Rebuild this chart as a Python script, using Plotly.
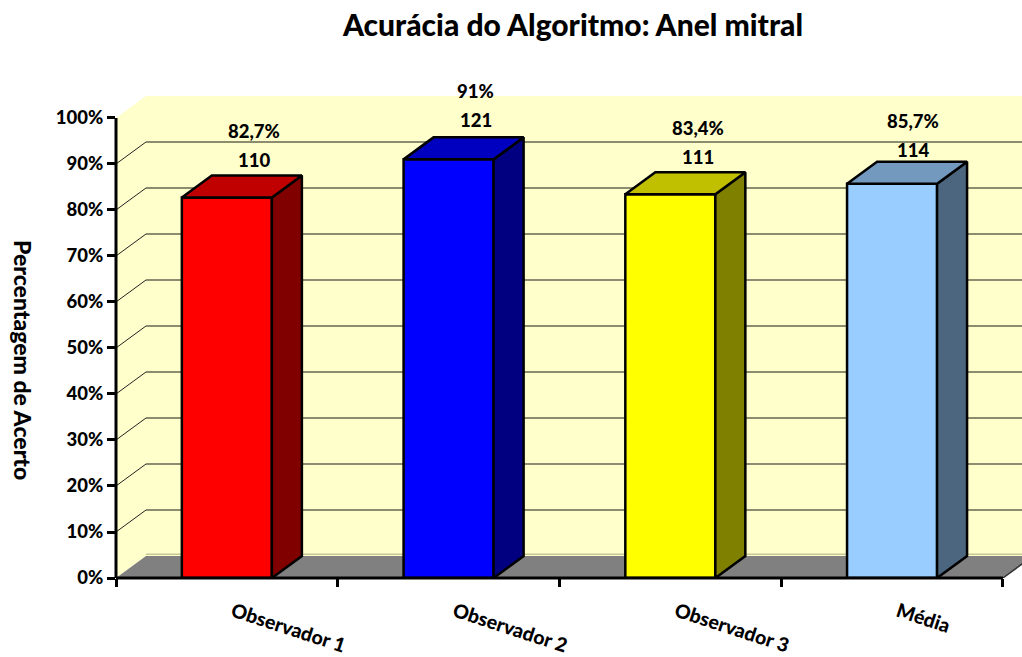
import plotly.graph_objects as go

categories = ['Observador 1', 'Observador 2', 'Observador 3', 'Média']
acerto = [82.7, 91, 83.4, 85.7]
casos = [110, 121, 111, 114]
pct_labels = ['82,7%', '91%', '83,4%', '85,7%']

y_ticks = [0, 10, 20, 30, 40, 50, 60, 70, 80, 90, 100]
y_ticktext = ['0%', '10%', '20%', '30%', '40%', '50%', '60%', '70%', '80%', '90%', '100%']
x_boundaries = [-0.5, 0.5, 1.5, 2.5, 3.5]

front_colors = ['#FF0000', '#0000FF', '#FFFF00', '#99CCFF']
side_colors = ['#800000', '#000080', '#808000', '#4D6680']
top_colors = ['#C00000', '#0000C0', '#C0C000', '#7399BF']

# label offsets in pixels, relative to the front top edge of each bar
label_dx = [27, 27, 28, 21]
label_dy = [38, 39, 37, 34]

FONT = 'Lato'
WEIGHT = 900
BAR_W = 0.406
DX = 30 / 221.75   # depth of the fake 3D box, in axis units
DY = 22 / 4.6
X0, X1 = -0.5, 3.586
X_END = x_boundaries[-1]
Y_TOP = 112.6
EDGE = 2.5

fig = go.Figure()

# Front faces
fig.add_trace(go.Bar(
    x=list(range(len(categories))), y=acerto, width=BAR_W,
    marker=dict(color=front_colors, line=dict(color='black', width=EDGE)),
    showlegend=False
))

# Side and top faces
for i, v in enumerate(acerto):
    l, r = i - BAR_W / 2, i + BAR_W / 2
    fig.add_trace(go.Scatter(
        x=[r, r + DX, r + DX, r, r], y=[0, DY, v + DY, v, 0],
        fill='toself', fillcolor=side_colors[i], mode='lines',
        line=dict(color='black', width=EDGE), showlegend=False
    ))
    fig.add_trace(go.Scatter(
        x=[l, l + DX, r + DX, r, l], y=[v, v + DY, v + DY, v, v],
        fill='toself', fillcolor=top_colors[i], mode='lines',
        line=dict(color='black', width=EDGE), showlegend=False
    ))

shapes = []
# Back wall, left wall, floor
shapes.append(dict(type='rect', x0=X0 + DX, x1=X_END + DX, y0=DY, y1=100 + DY,
                   fillcolor='#FFFFCC', line_width=0, layer='below'))
shapes.append(dict(type='path', layer='below', fillcolor='#FFFFCC', line_width=0,
                   path=f'M {X0},0 L {X0 + DX},{DY} L {X0 + DX},{100 + DY} L {X0},100 Z'))
shapes.append(dict(type='path', layer='below', fillcolor='#808080', line_width=0,
                   path=f'M {X0},0 L {X0 + DX},{DY} L {X_END + DX},{DY} L {X_END},0 Z'))
# Gridlines
for t in y_ticks[1:-1]:
    shapes.append(dict(type='line', layer='below', x0=X0 + DX, x1=X_END + DX, y0=t + DY, y1=t + DY,
                       line=dict(color='#66664F', width=1.5)))
    shapes.append(dict(type='line', layer='below', x0=X0, x1=X0 + DX, y0=t, y1=t + DY,
                       line=dict(color='#222222', width=1)))
shapes.append(dict(type='line', layer='below', x0=X0 + DX, x1=X_END + DX, y0=DY + 0.4, y1=DY + 0.4,
                   line=dict(color='#C8C896', width=1.5)))
# Right floor edge past the last tick
shapes.append(dict(type='line', layer='below', x0=X_END, x1=X_END + DX, y0=0, y1=DY,
                   line=dict(color='#333333', width=1.5)))
# Axis lines stop at 100% and at the last category, so they are drawn here
shapes.append(dict(type='line', xref='paper', x0=0, x1=0, yref='y', y0=0, y1=100,
                   line=dict(color='black', width=3)))
shapes.append(dict(type='line', xref='x', x0=X0, x1=X_END, yref='paper', y0=0, y1=0,
                   line=dict(color='black', width=3)))

annotations = []
for i, v in enumerate(acerto):
    annotations.append(dict(x=i, y=v, text=str(casos[i]), showarrow=False,
                            xshift=label_dx[i], yshift=label_dy[i],
                            font=dict(family=FONT, size=18.5, color='black', weight=WEIGHT)))
    annotations.append(dict(x=i, y=v, text=pct_labels[i], showarrow=False,
                            xshift=label_dx[i], yshift=label_dy[i] + 29,
                            font=dict(family=FONT, size=18.5, color='black', weight=WEIGHT)))
# Axis title reads top to bottom
annotations.append(dict(xref='paper', yref='paper', x=-96 / 906, y=(578 - 360) / 518,
                        xanchor='center', yanchor='middle', xshift=3,
                        text='Percentagem de Acerto', showarrow=False, textangle=90,
                        font=dict(family=FONT, size=23, color='black', weight=WEIGHT)))

fig.update_layout(
    width=1022, height=657,
    margin=dict(l=116, r=0, t=60, b=79),
    paper_bgcolor='white', plot_bgcolor='white',
    title=dict(text='Acurácia do Algoritmo: Anel mitral', x=573 / 1022, y=1 - 25 / 657,
               xanchor='center', yanchor='middle',
               font=dict(family=FONT, size=30, color='black', weight=WEIGHT)),
    shapes=shapes,
    annotations=annotations,
    showlegend=False
)

fig.update_xaxes(
    range=[X0, X1], tickmode='array',
    tickvals=[i + 6 / 221.75 for i in range(len(categories))], ticktext=categories,  # nudged so labels start where the reference does
    tickangle=18, ticks='', showgrid=False, zeroline=False, showline=False,
    tickfont=dict(family=FONT, size=19.5, color='black', weight=WEIGHT),
    ticklabelstandoff=18,
    minor=dict(tickmode='array', tickvals=x_boundaries, ticks='outside', ticklen=8,
               tickwidth=2.5, tickcolor='black')
)
fig.update_yaxes(
    range=[0, Y_TOP], tickmode='array', tickvals=y_ticks, ticktext=y_ticktext,
    ticks='outside', ticklen=8, tickwidth=2.5, tickcolor='black', showgrid=False, zeroline=False,
    showline=False,
    tickfont=dict(family=FONT, size=18.5, color='black', weight=WEIGHT)
)

fig.write_html("out.html", config=dict(displayModeBar=False),
               post_script="document.body.style.margin='0';")
